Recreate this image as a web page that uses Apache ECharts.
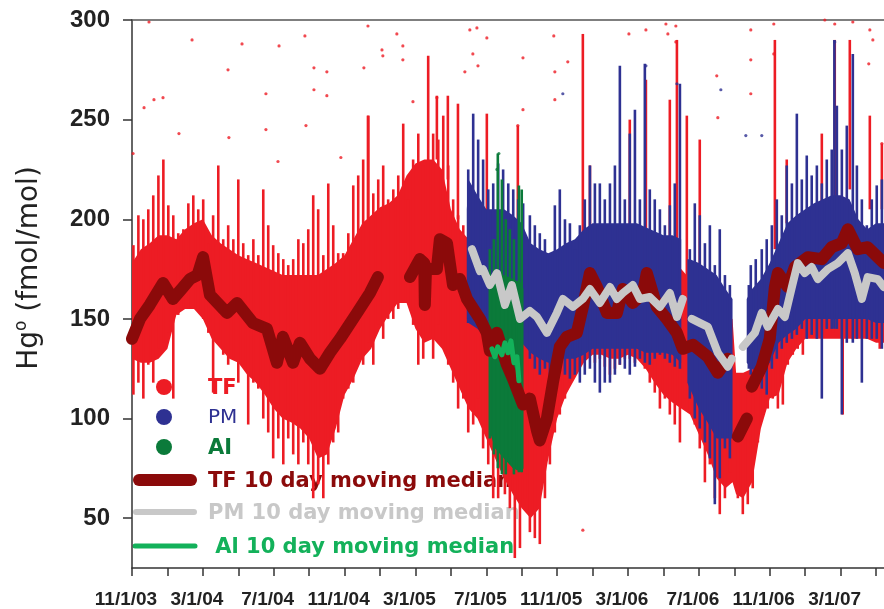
<!DOCTYPE html>
<html><head><meta charset="utf-8">
<script src="https://cdn.jsdelivr.net/npm/echarts@6/dist/echarts.min.js"></script>
<style>html,body{margin:0;padding:0;background:#fff}#c{width:884px;height:609px}</style>
</head><body><div id="c"></div>
<script>
// x values are months since 11/1/03
const xTickLabels = ['11/1/03','3/1/04','7/1/04','11/1/04','3/1/05','7/1/05','11/1/05','3/1/06','7/1/06','11/1/06','3/1/07'];
const xTickMonths = [0,2,4,6,8,10,12,14,16,18,20,22,24,26,28,30,32,34,36,38,40,42];
const xLabelMonths = [0,4,8,12,16,20,24,28,32,36,40];
const yTicks = [50,100,150,200,250,300];

// dense core of each scatter cloud: [month, low, high] (null = gap)
const tfBody = [
[0,130,178],[0.5,128,185],[1,128,188],[1.5,130,192],[2,135,192],[2.5,152,190],[3,155,195],[3.5,155,198],[4,150,200],[4.5,140,192],[5,135,188],[5.5,130,185],[6,128,182],[6.5,122,180],[7,118,178],[7.5,112,176],[8,105,174],[8.5,100,172],[9,98,172],[9.5,95,172],[10,90,172],[10.5,80,172],[11,82,175],[11.5,95,178],[12,112,182],[12.5,120,190],[13,130,198],[13.5,135,202],[14,145,206],[14.5,152,208],[15,158,212],[15.5,158,222],[16,145,228],[16.5,138,230],[17,140,230],[17.5,135,225],[18,125,205],[18.5,115,195],[19,105,190],[19.5,100,190],[20,90,190],[20.5,80,190],[21,70,190],[21.5,62,190],[22,55,185],[22.5,50,175],[23,55,170],[23.5,80,168],[24,100,170],[24.5,112,172],[25,120,175],[25.5,128,180],[26,132,183],[26.5,132,183],[27,130,183],[27.5,130,183],[28,132,183],[28.5,130,183],[29,125,181],[29.5,118,179],[30,112,177],[30.5,108,177],[31,105,175],[31.5,102,170],[32,92,165],[32.5,82,160],[33,70,158],[33.5,65,152],[33.9,68,150],[34.1,62,123],[34.5,60,123],[35,68,125],[35.5,95,140],[36,110,160],[36.5,112,175],[37,128,185],[37.5,135,190],[38,140,195],[38.5,140,198],[39,140,200],[39.5,140,200],[40,140,200],[40.5,140,200],[41,140,195],[41.5,140,190],[42,138,185],[42.5,138,185]
];
const pmBody = [
[18.9,148,205],[19,148,220],[19.5,145,212],[20,140,205],[20.5,138,205],[21,138,205],[21.5,138,202],[22,138,198],[22.5,133,188],[23,130,185],[23.5,128,183],[24,130,185],[24.5,130,188],[25,130,190],[25.5,132,195],[26,135,198],[26.5,135,198],[27,135,198],[27.5,135,198],[28,135,198],[28.5,135,198],[29,133,196],[29.5,133,194],[30,133,192],[30.5,132,192],[31,128,190],
[31.2,null,null],
[31.35,118,180],[31.5,115,180],[32,105,178],[32.5,98,175],[33,90,172],[33.5,90,165],[33.9,90,160],
[34.3,null,null],
[34.7,128,160],[35,125,165],[35.5,122,170],[36,128,178],[36.5,138,188],[37,142,198],[37.5,145,202],[38,150,205],[38.5,150,208],[39,150,210],[39.5,150,212],[40,150,212],[40.5,150,210],[41,150,200],[41.5,150,195],[42,148,198],[42.5,148,198]
];
const aiBody = [
[20.25,92,165],[20.5,85,170],[21,80,172],[21.5,75,170],[22,73,168],[22.1,75,165]
];

// vertical streaks of the clouds: [month, low end, high end]
const tfStreaks = [
[0.08,112,187],[0.36,118,202],[0.64,110,200],[0.92,127,205],[1.20,118,212],[1.49,135,222],[1.77,138,230],[2.05,143,207],[2.33,110,202],[2.61,152,193],[2.90,155,195],[3.18,155,208],[3.46,155,212],[3.74,155,205],[4.02,150,210],[4.31,143,188],[4.58,113,202],[4.87,140,227],[5.15,132,190],[5.43,127,197],[5.72,130,190],[6.00,118,220],[6.28,127,188],[6.56,97,182],[6.85,118,190],[7.13,115,182],[7.41,100,215],[7.69,93,197],[7.97,80,187],[8.26,90,183],[8.54,77,180],[8.82,90,177],[9.10,82,180],[9.39,77,190],[9.67,88,188],[9.95,77,195],[10.23,60,212],[10.51,67,205],[10.80,60,182],[11.08,77,218],[11.36,88,197],[11.64,93,183],[11.92,110,183],[12.21,115,193],[12.49,118,217],[12.77,130,222],[13.05,127,230],[13.34,138,252],[13.62,127,213],[13.90,147,220],[14.18,140,227],[14.46,150,210],[14.75,150,215],[15.03,155,222],[15.31,158,248],[15.59,158,210],[15.87,147,230],[16.16,127,243],[16.44,130,227],[16.72,143,282],[17.00,130,243],[17.29,147,240],[17.57,135,252],[17.85,127,227],[18.13,118,210],[18.41,105,202],[18.70,110,197],[18.98,93,190],[19.26,97,190],[19.54,110,190],[19.82,85,190],[20.11,77,185],[20.39,60,185],[20.67,60,185],
[21.05,62,150],[21.33,55,150],[21.61,30,150],[21.90,35,150],[22.18,60,150],[22.46,43,150],[22.74,40,150],[23.02,37,150],[23.31,60,150],[23.59,77,150],[23.87,93,150],[24.15,102,150],[24.44,110,150],[24.72,118,150],[25.00,122,150],[25.28,127,150],[25.56,137,150],[25.85,133,150],[26.13,128,150],[26.41,130,150],[26.69,126,150],[26.98,122,150],[27.26,125,150],[27.54,127,150],[27.82,130,150],[28.10,130,150],[28.39,128,150],[28.67,133,150],[28.95,125,150],[29.23,118,150],[29.51,113,150],[29.80,105,150],[30.08,110,150],[30.36,102,150],[30.64,97,150],[30.93,88,150],[31.21,110,150],[31.49,103,150],[31.77,97,150],[32.05,85,150],[32.34,68,150],[32.62,77,150],[32.90,60,150],[33.18,52,150],[33.47,60,150],[33.75,73,150],[34.20,60,120],[34.48,52,120],[34.76,57,120],[35.04,65,140],[35.33,88,150],[35.61,102,150],[35.89,105,150],[36.17,110,150],[36.46,105,160],[36.74,107,160],[37.02,127,170],[37.30,132,170],[37.58,135,170],[37.87,132,170],[38.43,143,170],[39.00,143,170],[39.56,143,170],[40.12,102,170],[40.69,140,170],[41.25,143,170],[41.82,140,170],[42.21,135,170],
[13.32,200,252],[17.21,230,262],[17.83,220,262],[18.40,200,258],[20.03,185,253],[21.78,175,247],[25.45,180,293],[25.85,185,227],[28.10,185,250],[29.01,190,270],[30.36,185,260],[30.76,178,290],[31.32,150,252],[32.05,170,240],[36.29,185,290],[36.96,198,230],[38.94,200,243],[39.67,210,290],[40.52,215,290],[41.65,205,252],[42.33,205,238]
];
const pmStreaks = [
[18.98,150,225],[19.26,150,253],[19.54,150,240],[19.82,150,230],[20.11,145,215],[20.39,145,218],[20.67,145,228],[20.95,145,225],[21.24,145,218],[21.52,145,215],[21.80,145,210],[22.08,140,208],
[22.46,130,202],[22.74,125,197],[23.02,122,193],[23.31,125,190],[23.59,118,183],[23.87,120,207],[24.15,125,215],[24.44,122,200],[24.72,120,198],[25.00,122,185],[25.28,118,197],[25.56,122,210],[25.85,125,227],[26.13,118,218],[26.41,113,218],[26.69,118,210],[26.98,118,218],[27.26,122,227],[27.54,127,277],[27.82,125,210],[28.10,122,243],[28.39,126,255],[28.67,130,210],[28.95,128,278],[29.23,127,215],[29.51,130,210],[29.80,132,205],[30.08,130,197],[30.36,128,207],[30.64,126,218],[30.93,125,268],[31.49,110,185],[31.77,100,208],[32.05,95,202],[32.34,88,188],[32.62,80,197],[32.90,57,177],[33.18,70,195],[33.47,85,172],[33.75,80,167],[34.82,125,167],[34.93,122,177],[35.21,118,180],[35.55,115,185],[35.83,112,190],[36.12,125,197],[36.40,130,210],[36.68,135,202],[36.96,138,227],[37.25,140,218],[37.53,142,253],[37.81,145,220],[38.09,140,232],[38.37,142,222],[38.66,140,227],[38.94,110,218],[39.22,145,230],[39.50,145,235],[39.65,145,290],[39.79,145,257],[40.07,102,235],[40.35,138,247],[40.69,138,283],[40.92,140,227],[41.20,118,210],[41.48,140,197],[41.76,140,210],[42.04,140,217],[42.33,135,220]
];
const aiStreaks = [
[20.20,90,185],[20.43,82,190],[20.65,75,233],[20.88,72,220],[21.10,72,200],[21.33,80,195],[21.56,72,190],[21.84,73,217],[22.00,73,215]
];

// isolated points: [month, value]
const tfDots = [
[0.96,299],[0.06,233],[0.68,256],[1.24,260],[1.75,261],[2.65,243],[3.39,290],[5.42,275],[5.47,241],[6.21,288],[7.56,263],[7.56,245],[8.30,287],[8.24,229],[9.76,292],[9.82,247],[10.27,276],[10.27,265],[11.00,274],[11.00,262],[11.79,231],[13.09,276],[13.32,297],[14.11,285],[14.16,282],[14.95,293],[15.29,287],[15.29,280],[15.86,259],[17.21,261],[19.07,295],[19.47,296],[20.03,291],[19.24,283],[19.53,277],[18.79,274],[22.07,281],[22.07,255],[21.78,247],[23.81,292],[23.87,274],[24.60,279],[23.87,260],[28.05,293],[29.01,295],[30.14,298],[30.25,293],[30.70,297],[30.70,289],[33.01,272],[33.07,251],[34.93,295],[34.93,280],[34.93,263],[36.23,298],[36.23,283],[39.11,300],[39.67,298],[40.69,299],[41.65,295],[41.82,290],[41.59,278],[42.33,238],[25.45,44]
];
const pmDots = [[29.01,277],[24.32,263],[30.76,268],[33.24,265],[34.65,242],[35.55,242],[39.67,289]];
const aiDots = [[20.71,233],[20.60,225]];

// 10 day moving medians: [month, value] (null = gap)
const tfMedian = [
[0,140],[0.45,150],[1.0,157],[1.75,168],[2.31,160],[2.8,165],[3.27,170],[3.7,172],[4.01,181],[4.4,162],[5.36,153],[5.93,158],[6.83,148],[7.62,145],[8.18,128],[8.52,141],[9.09,128],[9.48,138],[10.05,130],[10.61,125],[11.17,133],[11.74,140],[12.70,153],[13.43,163],[13.88,171],
[14.5,null],
[15.69,171],[16.0,176],[16.25,180],[16.5,178],[16.53,157],[16.6,176],[16.82,175],[17.21,175],[17.38,190],[17.78,188],[18.12,167],[18.51,170],[18.91,160],[19.64,150],[20.03,143],[20.20,134],[20.60,143],[21.16,127],[21.50,120],[22.07,107],[22.46,110],[22.86,94],[23.02,89],[23.42,100],[23.76,118],[24.15,136],[24.55,141],[25.11,143],[25.45,156],[25.85,173],[26.24,166],[26.81,153],[27.37,153],[27.71,165],[28.27,158],[28.84,163],[29.06,173],[29.63,156],[30.19,150],[30.76,143],[31.09,135],[31.66,137],[32.51,131],[33.07,123],[33.63,130],
[33.9,null],
[34.20,91],[34.71,100],
[34.85,null],
[34.99,116],[35.55,126],[36.00,140],[36.29,166],[36.46,173],[37.02,166],[37.42,176],[38.15,181],[38.94,180],[39.50,186],[40.07,188],[40.41,195],[40.97,185],[41.53,186],[42.10,181],[42.44,178]
];
const pmMedian = [
[19.19,185],[19.64,174],[19.81,175],[20.20,167],[20.60,173],[21.05,157],[21.44,167],[21.90,150],[22.46,154],[22.86,151],[23.42,143],[23.98,153],[24.32,160],[24.89,156],[25.45,160],[25.85,165],[26.41,158],[26.98,166],[27.37,160],[27.71,163],[28.27,167],[28.67,160],[29.23,161],[29.80,156],[30.36,163],[30.76,151],[31.09,160],
[31.3,null],
[31.60,150],[32.05,148],[32.51,146],[33.07,133],[33.63,126],[33.86,130],
[34.1,null],
[34.48,136],[35.16,143],[35.55,153],[35.89,146],[36.46,155],[36.85,151],[37.25,166],[37.58,178],[37.98,173],[38.37,176],[38.71,170],[39.28,175],[39.84,178],[40.41,183],[40.80,173],[41.20,160],[41.53,171],[42.10,170],[42.44,166]
];
const aiMedian = [
[20.32,135],[20.48,131],[20.65,136],[20.88,132],[21.05,138],[21.22,133],[21.39,139],[21.56,128],[21.73,131],[21.84,119]
];

const C = {tf:'#ed1c24', pm:'#2e3192', ai:'#0b7a3a', tfMed:'#8b0a0a', pmMed:'#c8c8c8', aiMed:'#13b15a'};

function bandSeries(name, rows, color) {
  return {
    type:'custom', name:name, silent:true, clip:true,
    data:[[rows[0][0], rows[0][1]]], encode:{x:0, y:1},
    renderItem:function(params, api){
      const children = []; let seg = [];
      const flush = function(){
        if (seg.length > 1) {
          const top = seg.map(function(r){return api.coord([r[0], r[2]]);});
          const bot = seg.slice().reverse().map(function(r){return api.coord([r[0], r[1]]);});
          children.push({type:'polygon', shape:{points: top.concat(bot)}, style:{fill:color}});
        }
        seg = [];
      };
      rows.forEach(function(r){ if (r[1] == null) flush(); else seg.push(r); });
      flush();
      return {type:'group', children:children};
    }
  };
}
function streakSeries(name, rows, color, w) {
  return {
    type:'custom', name:name, silent:true, clip:true, data:rows, encode:{x:0, y:[1,2]},
    renderItem:function(params, api){
      const a = api.coord([api.value(0), api.value(1)]);
      const b = api.coord([api.value(0), api.value(2)]);
      return {type:'line', shape:{x1:a[0], y1:a[1], x2:b[0], y2:b[1]}, style:{stroke:color, lineWidth:w}};
    }
  };
}
function dotSeries(name, rows, color) {
  return {type:'scatter', name:name, silent:true, symbolSize:3.2, data:rows, itemStyle:{color:color}};
}
function medianSeries(name, rows, color, w) {
  return {
    type:'line', name:name, silent:true, showSymbol:false, connectNulls:false,
    data: rows.map(function(r){ return r[1] == null ? [r[0], '-'] : r; }),
    lineStyle:{color:color, width:w, cap:'round', join:'round'}
  };
}

const chart = echarts.init(document.getElementById('c'));
const axisCol = '#333';
chart.setOption({
  animation:false,
  backgroundColor:'#fff',
  grid:{left:132, right:0, top:20, bottom:40},
  xAxis:[{
    type:'value', min:0, max:42.45, interval:2,
    axisLine:{show:true, onZero:false, lineStyle:{color:axisCol, width:1.5}},
    axisTick:{show:true, length:8, customValues:xTickMonths, lineStyle:{color:axisCol, width:1.5}},
    axisLabel:{customValues:xLabelMonths, formatter:function(v){return xTickLabels[Math.round(v/4)];},
      color:'#222', fontFamily:'Liberation Sans', fontWeight:'bold', fontSize:19, margin:22, padding:[0,12,0,0]},
    splitLine:{show:false}
  },{
    type:'value', position:'top', min:0, max:42.45,
    axisLine:{show:true, onZero:false, lineStyle:{color:'#555', width:1.5}},
    axisTick:{show:false}, axisLabel:{show:false}, splitLine:{show:false}
  }],
  yAxis:{
    type:'value', min:25, max:300,
    axisLine:{show:true, lineStyle:{color:axisCol, width:1.5}},
    axisTick:{show:true, length:9, customValues:yTicks, lineStyle:{color:axisCol, width:1.5}},
    axisLabel:{customValues:yTicks, color:'#222', fontFamily:'Liberation Sans', fontWeight:'bold', fontSize:24, margin:22},
    splitLine:{show:false}
  },
  graphic:[
    {type:'text', x:30, y:268, rotation:Math.PI/2, z:5,
      style:{text:'{a|Hg}{b|o}{a| (fmol/mol)}', align:'center', verticalAlign:'middle',
        rich:{a:{fontFamily:'DejaVu Sans', fontSize:28, lineHeight:34, fill:'#222'},
              b:{fontFamily:'DejaVu Sans', fontSize:17, lineHeight:34, verticalAlign:'top', fill:'#222'}}}},
    {type:'circle', z:0, shape:{cx:164, cy:387, r:8}, style:{fill:C.tf}},
    {type:'circle', z:0, shape:{cx:164, cy:417, r:8}, style:{fill:C.pm}},
    {type:'circle', z:0, shape:{cx:164, cy:447, r:8}, style:{fill:C.ai}},
    {type:'text', z:0, x:208, y:389, style:{text:'TF', fill:C.tf, font:'bold 21px "DejaVu Sans"', verticalAlign:'middle'}},
    {type:'text', z:0, x:208, y:418, style:{text:'PM', fill:C.pm, font:'20px "DejaVu Sans"', verticalAlign:'middle'}},
    {type:'text', z:0, x:208, y:449, style:{text:'AI', fill:C.ai, font:'bold 21px "DejaVu Sans"', verticalAlign:'middle'}},
    {type:'line', z:0, shape:{x1:139, y1:480, x2:191, y2:480}, style:{stroke:C.tfMed, lineWidth:12, lineCap:'round'}},
    {type:'line', z:0, shape:{x1:136, y1:512, x2:194, y2:512}, style:{stroke:C.pmMed, lineWidth:6, lineCap:'round'}},
    {type:'line', z:0, shape:{x1:135, y1:546, x2:195, y2:546}, style:{stroke:C.aiMed, lineWidth:5, lineCap:'round'}},
    {type:'text', z:0, x:208, y:482, style:{text:'TF 10 day moving median', fill:C.tfMed, font:'bold 21px "DejaVu Sans"', verticalAlign:'middle'}},
    {type:'text', z:0, x:208, y:514, style:{text:'PM 10 day moving median', fill:C.pmMed, font:'bold 21px "DejaVu Sans"', verticalAlign:'middle'}},
    {type:'text', z:0, x:208, y:548, style:{text:' Al 10 day moving median', fill:C.aiMed, font:'bold 21px "DejaVu Sans"', verticalAlign:'middle'}}
  ],
  series:[
    bandSeries('TF', tfBody, C.tf),
    streakSeries('TF streaks', tfStreaks, C.tf, 2.6),
    dotSeries('TF points', tfDots, C.tf),
    bandSeries('PM', pmBody, C.pm),
    streakSeries('PM streaks', pmStreaks, C.pm, 2.6),
    dotSeries('PM points', pmDots, C.pm),
    bandSeries('AI', aiBody, C.ai),
    streakSeries('AI streaks', aiStreaks, C.ai, 2.6),
    dotSeries('AI points', aiDots, C.ai),
    medianSeries('TF 10 day moving median', tfMedian, C.tfMed, 12),
    medianSeries('PM 10 day moving median', pmMedian, C.pmMed, 8),
    medianSeries('AI 10 day moving median', aiMedian, C.aiMed, 5)
  ]
});
</script></body></html>
